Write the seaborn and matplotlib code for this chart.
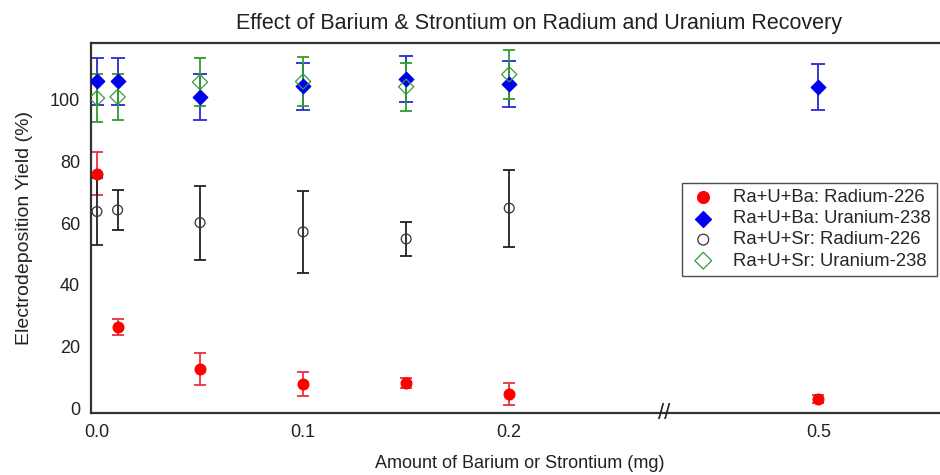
import numpy as np
import pandas as pd
import matplotlib
matplotlib.use('Agg')
import matplotlib.pyplot as plt
import seaborn as sns

sns.set_theme(style="white")
plt.rcParams['font.family'] = ['Liberation Sans', 'DejaVu Sans']

# ── Data ────────────────────────────────────────────────────────────
amount = [0.0, 0.01, 0.05, 0.1, 0.15, 0.2, 0.5]

ba_ra = [76.0, 26.3, 12.7, 7.8, 8.1, 4.6, 2.9]
ba_ra_err = [7.0, 2.5, 5.3, 4.0, 1.6, 3.5, 1.3]

ba_u = [106.0, 106.0, 100.9, 104.4, 106.8, 105.2, 104.2]
ba_u_err = [7.5, 7.5, 7.5, 7.5, 7.5, 7.5, 7.6]

sr_amount = [0.0, 0.01, 0.05, 0.1, 0.15, 0.2]
sr_ra = [63.8, 64.3, 60.2, 57.2, 54.9, 64.9]
sr_ra_err = [10.8, 6.4, 12.0, 13.2, 5.4, 12.5]

sr_u = [100.6, 101.0, 105.8, 106.0, 104.3, 108.3]
sr_u_err = [7.7, 7.5, 7.7, 8.0, 7.8, 8.0]

tick_values = [0.0, 0.1, 0.2, 0.5]
tick_labels = ['0.0', '0.1', '0.2', '0.5']
break_pos = 0.275  # drawn position of the "//" on the broken axis


def axis_pos(x):
    # broken x axis: 0.5 drawn at 0.35
    x = np.asarray(x, dtype=float)
    return np.where(x > 0.2, x - 0.15, x)


series = [
    ('Ra+U+Ba: Radium-226', amount, ba_ra, ba_ra_err,
     dict(marker='o', color='#ff0000', face='#ff0000', ecol='#e8303a', s=60, cap=4)),
    ('Ra+U+Ba: Uranium-238', amount, ba_u, ba_u_err,
     dict(marker='D', color='#0000ee', face='#0000ee', ecol='#2a2ad0', s=55, cap=5)),
    ('Ra+U+Sr: Radium-226', sr_amount, sr_ra, sr_ra_err,
     dict(marker='o', color='#333333', face='none', ecol='#222222', s=50, cap=4)),
    ('Ra+U+Sr: Uranium-238', sr_amount, sr_u, sr_u_err,
     dict(marker='D', color='#3a9a3a', face='none', ecol='#2e9e2e', s=60, cap=4.5)),
]

fig = plt.figure(figsize=(9.4, 4.75), dpi=100)
ax = fig.add_axes([0.0968, 0.1305, 0.9032, 0.779])

for label, xs, ys, errs, st in series:
    px = axis_pos(xs)
    ax.errorbar(px, ys, yerr=errs, fmt='none', ecolor=st['ecol'],
                elinewidth=1.3, capsize=st['cap'], capthick=1.3, zorder=2)
    df = pd.DataFrame({'x': px, 'y': ys})
    sns.scatterplot(data=df, x='x', y='y', ax=ax, marker=st['marker'], s=st['s'],
                    facecolor=st['face'], edgecolor=st['color'],
                    linewidth=0.9, label=label, zorder=3)

ax.set_xlim(-0.0029, 0.409)
ax.set_ylim(-1.6, 118.5)
ax.set_xticks(axis_pos(tick_values))
ax.set_xticklabels(tick_labels)
ax.set_yticks([0, 20, 40, 60, 80, 100])
ax.tick_params(axis='both', length=0, labelsize=13, colors='#222222', pad=8)

for side in ['left', 'bottom', 'top']:
    ax.spines[side].set_color('#333333')
    ax.spines[side].set_linewidth(1.6)
ax.spines['right'].set_visible(False)

ax.set_title('Effect of Barium & Strontium on Radium and Uranium Recovery',
             fontsize=15.5, color='#222222', pad=10, x=0.528)
ax.set_xlabel('Amount of Barium or Strontium (mg)', fontsize=13,
              color='#222222')
ax.xaxis.set_label_coords(0.505, -0.113)
ax.set_ylabel('Electrodeposition Yield (%)', fontsize=14, color='#222222',
              labelpad=12)

# axis-break marker
ax.text(break_pos, 0.0, '//', transform=ax.get_xaxis_transform(),
        ha='center', va='center', fontsize=16, color='#222222', clip_on=False)

leg = ax.legend(loc='upper right', bbox_to_anchor=(0.9965, 0.622), fontsize=13.3,
                frameon=True, fancybox=False, edgecolor='#222222',
                labelspacing=0.22, handletextpad=0.8, borderpad=0.35,
                handlelength=1.6, borderaxespad=0, markerscale=1.1)
leg.get_frame().set_linewidth(1.0)

fig.savefig('out.png', dpi=100)
